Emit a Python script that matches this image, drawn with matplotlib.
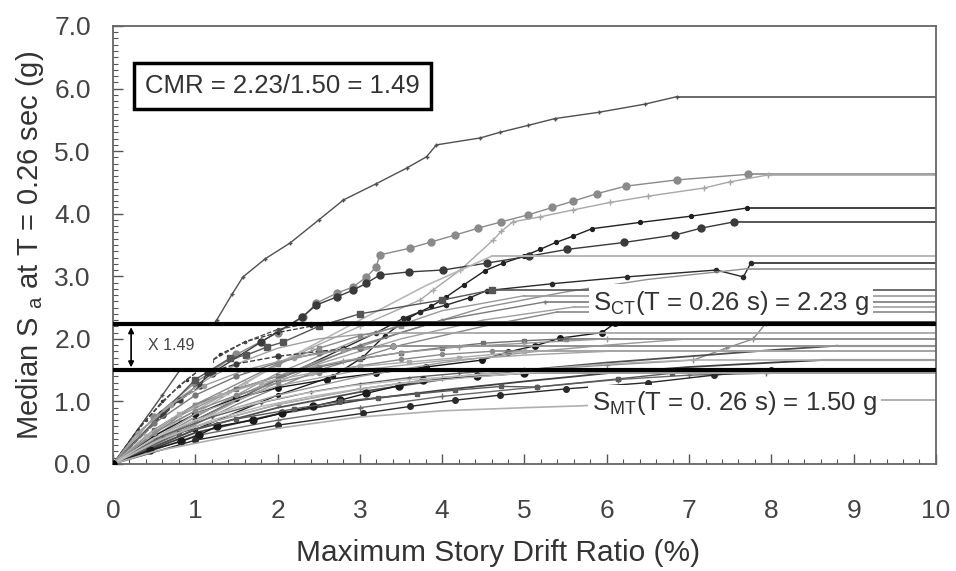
import matplotlib
matplotlib.use("Agg")
import matplotlib.pyplot as plt
from matplotlib.ticker import MultipleLocator, FormatStrFormatter
from matplotlib.patches import Rectangle

plt.rcParams['font.family'] = ['Liberation Sans', 'DejaVu Sans']

# ---------------- data: IDA curves (drift %, Sa g) ----------------
drift_01 = [0, 0.6, 1.0, 1.26, 1.45, 1.58, 1.85, 2.15, 2.5, 2.8, 3.2, 3.57, 3.81, 3.93, 4.46, 4.70, 5.04, 5.37, 5.90, 6.46, 6.85]
sa_01    = [0, 1.1, 1.85, 2.30, 2.72, 2.99, 3.28, 3.53, 3.90, 4.22, 4.48, 4.73, 4.91, 5.10, 5.21, 5.30, 5.41, 5.52, 5.62, 5.75, 5.87]
drift_02 = [0, 0.5, 1.0, 1.5, 2.0, 2.31, 2.47, 2.72, 2.92, 3.08, 3.20, 3.24, 3.61, 3.87, 4.16, 4.44, 4.72, 5.04, 5.34, 5.59, 5.88, 6.23, 6.85, 7.72]
sa_02    = [0, 0.75, 1.3, 1.75, 2.1, 2.35, 2.57, 2.73, 2.83, 2.99, 3.15, 3.34, 3.45, 3.55, 3.66, 3.77, 3.87, 3.98, 4.10, 4.20, 4.32, 4.44, 4.54, 4.63]
drift_03 = [0, 0.8, 1.6, 2.4, 3.0, 3.73, 3.89, 4.22, 4.62, 4.72, 4.86, 5.19, 5.59, 6.04, 6.50, 7.18, 7.50, 7.96]
sa_03    = [0, 0.7, 1.3, 1.85, 2.2, 2.62, 2.78, 3.10, 3.58, 3.72, 3.87, 3.95, 4.06, 4.18, 4.28, 4.41, 4.51, 4.62]
drift_04 = [0, 1.0, 2.0, 2.67, 3.04, 3.30, 3.59, 3.73, 3.87, 4.05, 4.26, 4.52, 4.74, 4.99, 5.19, 5.38, 5.59, 5.82, 6.40, 7.02, 7.70]
sa_04    = [0, 0.55, 1.1, 1.40, 1.71, 2.05, 2.33, 2.43, 2.52, 2.67, 2.86, 3.09, 3.21, 3.32, 3.43, 3.54, 3.64, 3.76, 3.86, 3.96, 4.09]
drift_05 = [0, 0.6, 1.2, 1.8, 2.3, 2.47, 2.72, 2.92, 3.08, 3.24, 3.6, 4.01, 4.54, 5.05, 5.52, 6.21, 6.83, 7.15, 7.55]
sa_05    = [0, 0.8, 1.45, 1.95, 2.35, 2.54, 2.67, 2.78, 2.89, 3.02, 3.07, 3.10, 3.21, 3.32, 3.43, 3.54, 3.66, 3.77, 3.87]
drift_06 = [0, 1.0, 2.0, 2.8, 3.2, 3.53, 3.73, 4.05, 4.34, 4.54, 5.33, 6.24, 7.33, 7.66, 7.75]
sa_06    = [0, 0.7, 1.35, 1.85, 2.1, 2.33, 2.43, 2.54, 2.66, 2.77, 2.88, 2.99, 3.10, 2.99, 3.21]
drift_07 = [0, 1.2, 2.4, 3.5, 4.5, 5.5, 6.5, 7.7]
sa_07    = [0, 0.9, 1.6, 2.1, 2.5, 2.75, 2.95, 3.12]
drift_08 = [0, 1.0, 2.0, 3.0, 3.8, 4.6]
sa_08    = [0, 0.8, 1.6, 2.3, 2.85, 3.32]
drift_09 = [0, 1.0, 1.42, 1.62, 1.87, 2.07, 2.5, 3.0, 4.0, 4.6]
sa_09    = [0, 1.35, 1.69, 1.74, 1.87, 1.95, 2.2, 2.4, 2.62, 2.78]
drift_10 = [0, 1.0, 2.0, 3.0, 4.0, 5.0]
sa_10    = [0, 0.75, 1.45, 2.0, 2.45, 2.69]
drift_11 = [0, 1.0, 2.0, 3.0, 4.0, 5.25]
sa_11    = [0, 0.7, 1.35, 1.9, 2.3, 2.59]
drift_12 = [0, 1.5, 2.5, 3.5, 4.5, 5.6]
sa_12    = [0, 1.0, 1.6, 2.0, 2.3, 2.51]
drift_13 = [0, 1.5, 2.5, 3.5, 4.5, 5.4]
sa_13    = [0, 0.95, 1.5, 1.9, 2.2, 2.43]
drift_14 = [0, 0.5, 1.0, 1.5, 2.0, 2.6, 3.2, 3.8, 4.48, 4.80, 5.13, 5.43, 5.94, 6.10]
sa_14    = [0, 0.45, 0.8, 1.05, 1.22, 1.35, 1.45, 1.55, 1.66, 1.79, 1.89, 2.01, 2.10, 2.25]
drift_15 = [0, 1.0, 2.0, 3.0, 4.0, 5.0, 6.0, 7.05, 7.45, 7.78, 7.94]
sa_15    = [0, 0.6, 0.95, 1.2, 1.38, 1.5, 1.58, 1.66, 1.85, 2.0, 2.26]
drift_16 = [0, 1.0, 2.0, 3.0, 4.0, 5.0, 6.0, 7.0]
sa_16    = [0, 0.7, 1.1, 1.4, 1.62, 1.78, 1.9, 2.0]
drift_17 = [0, 1.0, 2.0, 3.0, 4.0, 5.0, 6.0, 7.0, 8.0, 8.8]
sa_17    = [0, 0.55, 0.9, 1.15, 1.35, 1.5, 1.62, 1.72, 1.82, 1.89]
drift_18 = [0, 1.0, 2.0, 3.0, 4.0, 5.0, 6.0]
sa_18    = [0, 0.8, 1.25, 1.5, 1.65, 1.74, 1.80]
drift_19 = [0, 1.0, 2.0, 3.0, 4.0, 5.0, 6.0, 7.0, 8.0, 8.6]
sa_19    = [0, 0.5, 0.8, 1.02, 1.18, 1.32, 1.45, 1.55, 1.62, 1.66]
drift_20 = [0, 1.0, 2.0, 3.0, 4.0, 5.15, 6.14, 7.0, 7.94]
sa_20    = [0, 0.45, 0.7, 0.9, 1.08, 1.23, 1.35, 1.42, 1.45]
drift_21 = [0, 0.3, 0.6, 0.9, 1.1, 1.3, 1.6, 2.0, 2.4, 2.8]
sa_21    = [0, 0.55, 1.0, 1.35, 1.55, 1.75, 1.95, 2.1, 2.2, 2.27]
drift_22 = [0, 0.4, 0.8, 1.2, 1.6, 2.0, 2.5, 3.0, 3.5]
sa_22    = [0, 0.6, 1.05, 1.4, 1.65, 1.85, 2.0, 2.07, 2.10]
drift_23 = [0, 0.5, 1.0, 1.5, 2.0, 2.5, 3.0, 3.5, 4.0, 4.5, 5.0, 5.5]
sa_23    = [0, 0.55, 0.95, 1.2, 1.4, 1.55, 1.68, 1.78, 1.86, 1.93, 1.97, 2.00]
drift_24 = [0, 0.5, 1.0, 1.5, 2.0, 2.5, 3.0, 3.5, 4.0, 4.6]
sa_24    = [0, 0.5, 0.85, 1.1, 1.3, 1.45, 1.57, 1.67, 1.75, 1.80]
drift_25 = [0, 0.6, 1.2, 1.8, 2.4, 3.0, 3.6, 4.2, 4.8]
sa_25    = [0, 0.45, 0.75, 0.98, 1.15, 1.28, 1.38, 1.45, 1.50]
drift_26 = [0, 0.45, 0.83, 1.04, 1.26, 1.70, 2.05, 2.43, 2.76, 3.08, 3.47, 3.77, 4.42, 5.0]
sa_26    = [0, 0.22, 0.36, 0.46, 0.60, 0.70, 0.81, 0.92, 1.02, 1.13, 1.25, 1.34, 1.40, 1.45]
drift_27 = [0, 0.61, 0.81, 1.06, 1.14, 1.5, 2.0, 2.5, 3.0, 3.4]
sa_27    = [0, 0.78, 1.02, 1.24, 1.45, 1.6, 1.72, 1.8, 1.86, 1.89]
drift_28 = [0, 1.0, 2.0, 3.04, 3.61, 4.16, 4.70, 5.5, 6.5, 7.3, 8.0]
sa_28    = [0, 0.38, 0.62, 0.81, 0.92, 1.02, 1.10, 1.20, 1.30, 1.42, 1.50]
drift_29 = [0, 0.8, 1.5, 2.2, 2.76, 3.22, 3.69, 4.16, 4.72, 5.15, 6.14, 6.79]
sa_29    = [0, 0.5, 0.72, 0.88, 1.0, 1.06, 1.12, 1.18, 1.24, 1.23, 1.36, 1.45]
drift_30 = [0, 0.5, 1.0, 2.0, 3.0, 4.0, 5.0, 6.0, 7.0]
sa_30    = [0, 0.35, 0.6, 0.95, 1.2, 1.38, 1.5, 1.6, 1.66]
drift_31 = [0, 0.7, 1.4, 2.1, 2.8, 3.5, 4.2, 5.0, 6.0]
sa_31    = [0, 0.7, 1.15, 1.45, 1.65, 1.78, 1.87, 1.93, 2.0]
drift_32 = [0, 0.5, 1.0, 1.5, 2.0, 2.5, 3.0, 3.4]
sa_32    = [0, 0.65, 1.1, 1.4, 1.62, 1.78, 1.86, 1.89]
drift_33 = [0, 0.6, 1.2, 1.8, 2.4, 3.0, 3.6, 4.3, 5.0]
sa_33    = [0, 0.4, 0.7, 0.92, 1.08, 1.2, 1.3, 1.38, 1.45]
drift_34 = [0, 1.0, 2.0, 2.5, 3.0, 3.5, 4.0]
sa_34    = [0, 0.95, 1.6, 1.85, 2.05, 2.2, 2.27]
drift_35 = [0, 0.4, 0.8, 1.2, 1.6, 2.0, 2.4, 2.7]
sa_35    = [0, 0.7, 1.25, 1.65, 1.95, 2.15, 2.25, 2.27]
drift_36 = [0, 0.5, 1.0, 1.5, 2.0, 3.0, 4.0, 5.0, 5.7, 7.0]
sa_36    = [0, 0.2, 0.33, 0.46, 0.57, 0.75, 0.85, 0.90, 0.93, 1.02]
drift_37 = [0, 0.4, 0.8, 1.3, 1.8, 2.4, 3.0, 3.6, 4.2, 5.0]
sa_37    = [0, 0.45, 0.8, 1.1, 1.3, 1.45, 1.56, 1.63, 1.70, 1.80]
drift_38 = [0, 0.5, 1.0, 1.5, 2.2, 2.9, 3.6, 4.4, 5.2, 6.0]
sa_38    = [0, 0.42, 0.7, 0.9, 1.1, 1.25, 1.35, 1.42, 1.47, 1.50]
drift_39 = [0, 0.3, 0.7, 1.1, 1.6, 2.2, 2.8, 3.4]
sa_39    = [0, 0.5, 0.95, 1.25, 1.5, 1.7, 1.82, 1.89]

drifts = [drift_01, drift_02, drift_03, drift_04, drift_05, drift_06, drift_07, drift_08, drift_09,
          drift_10, drift_11, drift_12, drift_13, drift_14, drift_15, drift_16, drift_17, drift_18,
          drift_19, drift_20, drift_21, drift_22, drift_23, drift_24, drift_25, drift_26, drift_27,
          drift_28, drift_29, drift_30, drift_31, drift_32, drift_33, drift_34, drift_35, drift_36,
          drift_37, drift_38, drift_39]
sas = [sa_01, sa_02, sa_03, sa_04, sa_05, sa_06, sa_07, sa_08, sa_09, sa_10, sa_11, sa_12, sa_13,
       sa_14, sa_15, sa_16, sa_17, sa_18, sa_19, sa_20, sa_21, sa_22, sa_23, sa_24, sa_25, sa_26,
       sa_27, sa_28, sa_29, sa_30, sa_31, sa_32, sa_33, sa_34, sa_35, sa_36, sa_37, sa_38, sa_39]

s_ct = 2.23
s_mt = 1.50
x_max = 10

# ---------------- styles ----------------
styles = [
    dict(color='#505050', marker='+', ms=3.5, lw=1.0),   # 01
    dict(color='#8a8a8a', marker='o', ms=5.0, lw=1.0),   # 02
    dict(color='#a8a8a8', marker='+', ms=4.5, lw=1.0),   # 03
    dict(color='#202020', marker='o', ms=2.8, lw=1.0),   # 04
    dict(color='#3a3a3a', marker='o', ms=5.0, lw=1.0),   # 05
    dict(color='#2a2a2a', marker='o', ms=3.0, lw=1.0),   # 06
    dict(color='#909090', marker='', ms=0, lw=1.0),      # 07
    dict(color='#b8b8b8', marker='', ms=0, lw=1.2),      # 08
    dict(color='#555555', marker='s', ms=4.5, lw=1.0),   # 09
    dict(color='#9a9a9a', marker='', ms=0, lw=1.0),      # 10
    dict(color='#7a7a7a', marker='+', ms=3, lw=1.0),     # 11
    dict(color='#a0a0a0', marker='', ms=0, lw=1.0),      # 12
    dict(color='#888888', marker='', ms=0, lw=1.0),      # 13
    dict(color='#1a1a1a', marker='o', ms=4.0, lw=1.0),   # 14
    dict(color='#8c8c8c', marker='+', ms=4, lw=1.0),     # 15
    dict(color='#9a9a9a', marker='', ms=0, lw=1.0),      # 16
    dict(color='#505050', marker='', ms=0, lw=1.3),      # 17
    dict(color='#a5a5a5', marker='', ms=0, lw=1.0),      # 18
    dict(color='#404040', marker='', ms=0, lw=1.3),      # 19
    dict(color='#6a6a6a', marker='+', ms=4, lw=1.0),     # 20
    dict(color='#303030', marker='.', ms=3, lw=0.9, ls='--'),  # 21
    dict(color='#a0a0a0', marker='', ms=0, lw=1.0),      # 22
    dict(color='#707070', marker='s', ms=3.5, lw=1.0),   # 23
    dict(color='#8a8a8a', marker='o', ms=3, lw=1.0),     # 24
    dict(color='#606060', marker='+', ms=3.5, lw=1.0),   # 25
    dict(color='#1a1a1a', marker='o', ms=5.0, lw=1.0),   # 26
    dict(color='#3a3a3a', marker='o', ms=3.5, lw=1.0, ls='--'),  # 27
    dict(color='#2a2a2a', marker='o', ms=4.0, lw=1.0),   # 28
    dict(color='#5a5a5a', marker='s', ms=3.5, lw=1.0),   # 29
    dict(color='#b0b0b0', marker='', ms=0, lw=1.0),      # 30
    dict(color='#999999', marker='+', ms=4, lw=1.0),     # 31
    dict(color='#777777', marker='o', ms=3.5, lw=1.0),   # 32
    dict(color='#b5b5b5', marker='', ms=0, lw=1.0),      # 33
    dict(color='#8a8a8a', marker='s', ms=3.5, lw=1.0),   # 34
    dict(color='#4a4a4a', marker='.', ms=3, lw=0.9, ls='--'),  # 35
    dict(color='#b0b0b0', marker='', ms=0, lw=1.2),      # 36
    dict(color='#aaaaaa', marker='s', ms=3.0, lw=1.0),   # 37
    dict(color='#c0c0c0', marker='', ms=0, lw=1.0),      # 38
    dict(color='#9c9c9c', marker='o', ms=3.0, lw=1.0),   # 39
]

fig = plt.figure(figsize=(9.56, 5.71), dpi=100)
ax = fig.add_axes([0.1182, 0.1874, 0.979 - 0.1182, 0.9545 - 0.1874])

for d, s, st in zip(drifts, sas, styles):
    ls = st.get('ls', '-')
    ax.plot(d, s, color=st['color'], lw=st['lw'], ls=ls, marker=st['marker'] or None,
            ms=st['ms'], mfc=st['color'], mec=st['color'], zorder=2)
    ax.plot([d[-1], x_max], [s[-1], s[-1]], color=st['color'], lw=st['lw'] + 0.2, zorder=2)

ax.plot([0], [0], 'o', color='black', ms=5, zorder=5)

# median collapse / MCE lines
ax.axhline(s_ct, color='black', lw=3.0, zorder=4)
ax.axhline(s_mt, color='black', lw=3.0, zorder=4)

# white patch behind the ratio label
ax.add_patch(Rectangle((0.3, s_mt), 0.92, s_ct - s_mt, facecolor='white', edgecolor='none', zorder=3))

# ratio arrow
ax.annotate('', xy=(0.22, s_ct), xytext=(0.22, s_mt),
            arrowprops=dict(arrowstyle='<|-|>', color='black', lw=1.2, mutation_scale=8),
            zorder=6)
ax.text(0.42, (s_ct + s_mt) / 2 + 0.03, 'X 1.49', fontsize=11.5, color='#444444', va='center',
        ha='left', zorder=6)

# labels of the horizontal lines
ax.text(5.83, 2.58, r'S$_{\mathregular{CT}}$(T = 0.26 s) = 2.23 g', fontsize=18.5, color='#333333',
        va='center', ha='left', bbox=dict(facecolor='white', edgecolor='none', pad=3), zorder=3)
ax.text(5.82, 0.97, r'S$_{\mathregular{MT}}$(T = 0. 26 s) = 1.50 g', fontsize=18.5, color='#333333',
        va='center', ha='left', bbox=dict(facecolor='white', edgecolor='none', pad=3), zorder=3)

# CMR box
ax.text(0.39, 6.04, 'CMR = 2.23/1.50 = 1.49', fontsize=18.5, color='#333333', va='center', ha='left',
        bbox=dict(facecolor='white', edgecolor='black', lw=2.5, boxstyle='square,pad=0.42'), zorder=7)

ax.set_xlim(0, 10)
ax.set_ylim(0, 7)
ax.xaxis.set_major_locator(MultipleLocator(1))
ax.xaxis.set_minor_locator(MultipleLocator(0.2))
ax.yaxis.set_major_locator(MultipleLocator(1))
ax.yaxis.set_minor_locator(MultipleLocator(0.1))
ax.yaxis.set_major_formatter(FormatStrFormatter('%.1f'))
ax.tick_params(which='both', direction='in', colors='#555555', labelcolor='#444444')
ax.tick_params(which='major', length=7, width=1.0, labelsize=19)
ax.tick_params(which='minor', length=3.5, width=0.8)
ax.tick_params(axis='x', which='major', pad=25)
ax.tick_params(axis='y', which='major', pad=16)
for sp in ax.spines.values():
    sp.set_color('#666666')
    sp.set_linewidth(1.3)

ax.set_xlabel('Maximum Story Drift Ratio (%)', fontsize=21.5, color='#333333')
ax.xaxis.set_label_coords(0.468, -0.203)
ax.xaxis.label.set_verticalalignment('center')
ax.set_ylabel(r'Median S $_{\mathregular{a}}$ at T = 0.26 sec (g)', fontsize=21, color='#333333',
              labelpad=6)

fig.savefig('out.png', dpi=100)
